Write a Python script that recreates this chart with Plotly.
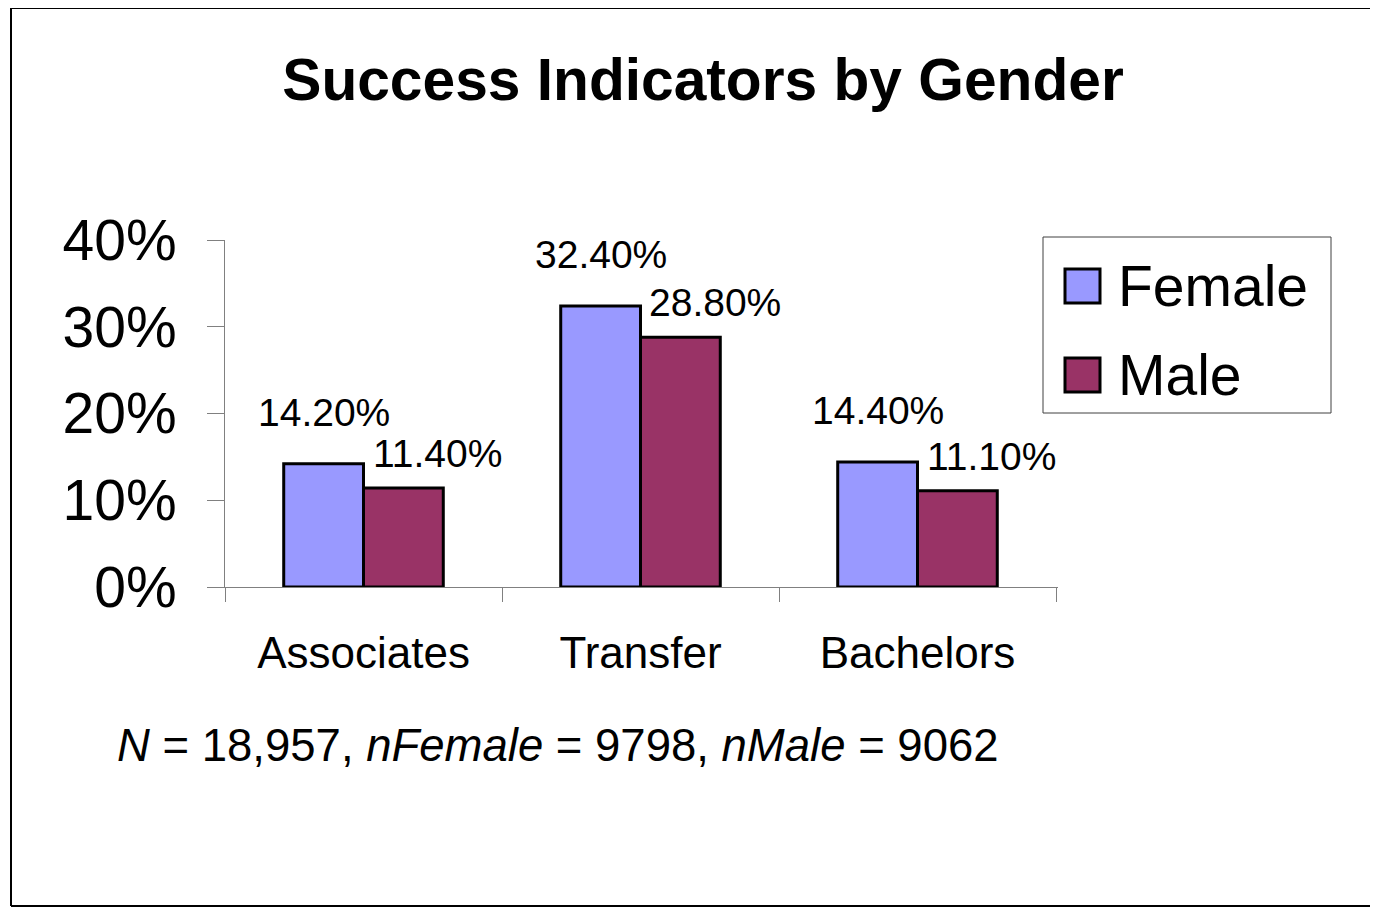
import plotly.graph_objects as go

categories = ["Associates", "Transfer", "Bachelors"]
female = [0.142, 0.324, 0.144]
male = [0.114, 0.288, 0.111]
series_names = ["Female", "Male"]
y_ticks = [0, 0.1, 0.2, 0.3, 0.4]
y_tick_labels = ["0%", "10%", "20%", "30%", "40%"]
n_total = "18,957"
n_female = "9798"
n_male = "9062"

OFF = 8  # page body margin
W, H = 1378 - OFF, 908 - OFF
L, R, T, B = 225 - OFF, 1058 - OFF, 240 - OFF, 587 - OFF  # plot area in pixels

def px_x(p):
    return (p - OFF - L) / (R - L)

def px_y(p):
    return (B - (p - OFF)) / (B - T)

FONT = "Liberation Sans, Arial, sans-serif"
colors = ["#9999FF", "#993366"]

fig = go.Figure()
for name, vals, col in zip(series_names, [female, male], colors):
    fig.add_trace(go.Bar(
        x=categories, y=vals, name=name,
        marker=dict(color=col, line=dict(color="black", width=3)),
        showlegend=False,
    ))

# data labels
for vals, xs, ys in [(female, -40, 28), (male, 74, 11)]:
    for c, v in zip(categories, vals):
        fig.add_annotation(
            x=c, y=v, xref="x", yref="y", text=f"{v*100:.2f}%",
            showarrow=False, xanchor="center", yanchor="bottom",
            xshift=xs, yshift=ys,
            font=dict(family=FONT, size=39, color="black"),
        )

# footnote
fig.add_annotation(
    x=px_x(115), y=px_y(745), xref="paper", yref="paper",
    xanchor="left", yanchor="middle", showarrow=False,
    text=f"<i>N</i> = {n_total}, <i>nFemale</i> = {n_female}, <i>nMale</i> = {n_male}",
    font=dict(family=FONT, size=45.5, color="black"),
)

# manual legend
fig.add_shape(type="rect", xref="paper", yref="paper",
              x0=px_x(1043), x1=px_x(1331), y0=px_y(237), y1=px_y(413),
              line=dict(color="#404040", width=1), fillcolor="white")
for i, (name, col) in enumerate(zip(series_names, colors)):
    cy = 286 + i * 89
    fig.add_shape(type="rect", xref="paper", yref="paper",
                  x0=px_x(1065), x1=px_x(1100), y0=px_y(cy - 17), y1=px_y(cy + 17),
                  line=dict(color="black", width=3), fillcolor=col)
    fig.add_annotation(x=px_x(1116), y=px_y(cy), xref="paper", yref="paper",
                       xanchor="left", yanchor="middle", showarrow=False,
                       text=name, font=dict(family=FONT, size=57, color="black"))

# outer border (top, left, bottom)
for (x0, y0, x1, y1) in [(11, 8, 1400, 8), (11, 8, 11, 906), (11, 906, 1400, 906)]:
    fig.add_shape(type="line", xref="paper", yref="paper",
                  x0=px_x(x0), x1=px_x(x1), y0=px_y(y0), y1=px_y(y1),
                  line=dict(color="black", width=2), layer="below")

fig.update_layout(
    width=W, height=H,
    margin=dict(l=L, r=W - R, t=T, b=H - B, pad=0),
    paper_bgcolor="white", plot_bgcolor="white",
    barmode="group", bargap=0.424, bargroupgap=0,
    title=dict(text="<b>Success Indicators by Gender</b>",
               x=(703 - OFF) / W, y=1 - (79 - OFF) / H, xanchor="center", yanchor="middle",
               xref="container", yref="container",
               font=dict(family=FONT, size=58.7, color="black")),
    font=dict(family=FONT, color="black"),
    showlegend=False,
)
fig.update_yaxes(
    range=[0, 0.4], tickvals=y_ticks, ticktext=y_tick_labels,
    showgrid=False, zeroline=False, showline=True, linecolor="#808080", linewidth=1,
    ticks="outside", ticklen=17, tickcolor="#808080", tickwidth=1,
    tickfont=dict(family=FONT, size=57, color="black"), ticklabelstandoff=19,
)
fig.update_xaxes(
    showgrid=False, zeroline=False, showline=True, linecolor="#808080", linewidth=1,
    ticks="outside", ticklen=14, tickcolor="#808080", tickwidth=1, tickson="boundaries",
    tickfont=dict(family=FONT, size=44, color="black"), ticklabelstandoff=27,
)

fig.write_html("out.html")
